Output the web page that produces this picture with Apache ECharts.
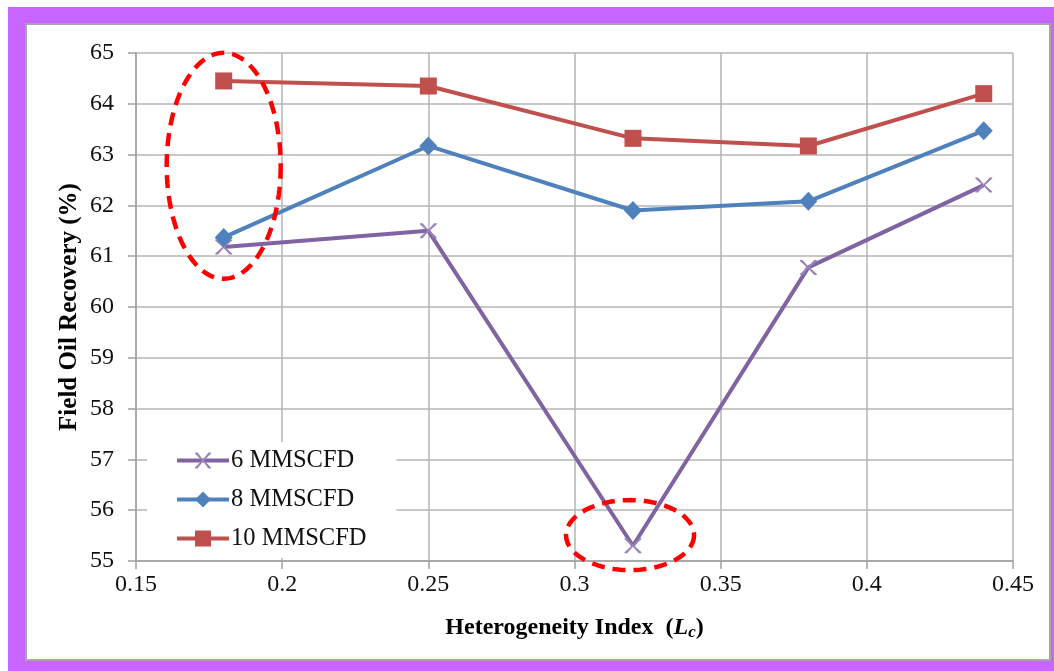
<!DOCTYPE html>
<html>
<head>
<meta charset="utf-8">
<script src="https://cdn.jsdelivr.net/npm/echarts@6/dist/echarts.min.js"></script>
<style>
html,body{margin:0;padding:0;background:#fff;width:1054px;height:671px;overflow:hidden;}
#frame{position:absolute;left:8px;top:7px;width:1046px;height:664px;background:#c864ff;}
#inner{position:absolute;left:25px;top:23px;width:1026px;height:638px;background:#fff;border:2px solid #a6a6a6;box-sizing:border-box;}
#chart{position:absolute;left:0;top:0;width:1054px;height:671px;}
</style>
</head>
<body>
<div id="frame"></div>
<div id="inner"></div>
<div id="chart"></div>
<script>
const seriesNames = ['6 MMSCFD', '8 MMSCFD', '10 MMSCFD'];
const xValues = [0.18, 0.25, 0.32, 0.38, 0.44];
const s6 = [61.18, 61.5, 55.3, 60.78, 62.4];
const s8 = [61.37, 63.17, 61.9, 62.08, 63.47];
const s10 = [64.45, 64.35, 63.32, 63.17, 64.2];
const xTicks = { min: 0.15, max: 0.45, interval: 0.05 };
const yTicks = { min: 55, max: 65, interval: 1 };
// annotation ellipses: [centerX, centerY] in data units, radii in px
const ellipses = [
  { c: [0.18, 62.78], rx: 57, ry: 113 },
  { c: [0.319, 55.51], rx: 64, ry: 35 }
];

const crossPath = 'path://M0,0 L1.6,0 L5,3.9 L8.4,0 L10,0 L10,0.6 L5.8,4.5 L10,8.4 L10,9 L8.4,9 L5,5.1 L1.6,9 L0,9 L0,8.4 L4.2,4.5 L0,0.6 Z';
const font = '"Liberation Serif", "Times New Roman", serif';
const colors = ['#8064a2', '#4f81bd', '#c0504d'];
const dataSets = [s6, s8, s10];
const symbols = [crossPath, 'diamond', 'rect'];
const symbolSizes = [[17, 15], [18, 19], [17, 17]];
const symbolColors = ['#9b83bd', '#4f81bd', '#c0504d'];

const chart = echarts.init(document.getElementById('chart'), null, { renderer: 'canvas' });
const option = {
  animation: false,
  backgroundColor: 'transparent',
  grid: { left: 136, right: 41, top: 53, bottom: 110, containLabel: false },
  xAxis: {
    type: 'value', min: xTicks.min, max: xTicks.max, interval: xTicks.interval,
    name: '{b|Heterogeneity Index  (}{i|L}{s|c}{b|)}',
    nameLocation: 'middle', nameGap: 53, nameMoveOverlap: false,
    nameTextStyle: {
      rich: {
        b: { fontFamily: font, fontWeight: 'bold', fontSize: 24, color: '#000' },
        i: { fontFamily: font, fontWeight: 'bold', fontStyle: 'italic', fontSize: 24, color: '#000' },
        s: { fontFamily: font, fontWeight: 'bold', fontStyle: 'italic', fontSize: 17, color: '#000', padding: [10, 0, 0, 0] }
      }
    },
    axisLine: { show: true, onZero: false, lineStyle: { color: '#a0a0a0', width: 1.5 } },
    axisTick: { show: true, inside: false, length: 8, lineStyle: { color: '#a0a0a0', width: 1.5 } },
    axisLabel: { fontFamily: font, fontSize: 24, color: '#111', margin: 12,
      formatter: v => String(+v.toFixed(2)) },
    splitLine: { show: true, lineStyle: { color: '#b4b4b4', width: 1.5 } }
  },
  yAxis: {
    type: 'value', min: yTicks.min, max: yTicks.max, interval: yTicks.interval,
    name: 'Field Oil Recovery (%)',
    nameLocation: 'middle', nameGap: 54, nameRotate: 90, nameMoveOverlap: false,
    nameTextStyle: { fontFamily: font, fontWeight: 'bold', fontSize: 25, color: '#000' },
    axisLine: { show: true, lineStyle: { color: '#a0a0a0', width: 1.5 } },
    axisTick: { show: true, inside: false, length: 8, lineStyle: { color: '#a0a0a0', width: 1.5 } },
    axisLabel: { fontFamily: font, fontSize: 24, color: '#111', margin: 22 },
    splitLine: { show: true, lineStyle: { color: '#b4b4b4', width: 1.5 } }
  },
  legend: {
    orient: 'vertical', left: 147, top: 442,
    backgroundColor: '#fff', padding: [6, 30, 7, 28],
    itemWidth: 52, itemHeight: 20, itemGap: 14,
    lineStyle: { width: 4 },
    textStyle: { fontFamily: font, fontSize: 24.5, lineHeight: 24, color: '#111', padding: [0, 0, 0, -3] },
    data: seriesNames
  },
  series: seriesNames.map((n, i) => ({
    name: n, type: 'line',
    data: xValues.map((x, j) => [x, dataSets[i][j]]),
    symbol: symbols[i], symbolSize: symbolSizes[i], showSymbol: true,
    lineStyle: { color: colors[i], width: 4 },
    itemStyle: { color: symbolColors[i], borderWidth: 0 },
    z: 2 + i
  }))
};
chart.setOption(option);

function ellipsePoints(cx, cy, rx, ry) {
  const pts = [];
  const n = 120;
  for (let k = 0; k < n; k++) {
    const t = 2 * Math.PI * k / n;
    pts.push([cx + rx * Math.cos(t), cy + ry * Math.sin(t)]);
  }
  return pts;
}
const graphics = ellipses.map(e => {
  const p = chart.convertToPixel({ gridIndex: 0 }, e.c);
  return {
    type: 'polygon', z: 100,
    shape: { points: ellipsePoints(p[0], p[1], e.rx, e.ry) },
    style: { fill: 'none', stroke: '#ff0000', lineWidth: 4.5, lineDash: [13, 8] }
  };
});
chart.setOption({ graphic: graphics });
</script>
</body>
</html>
